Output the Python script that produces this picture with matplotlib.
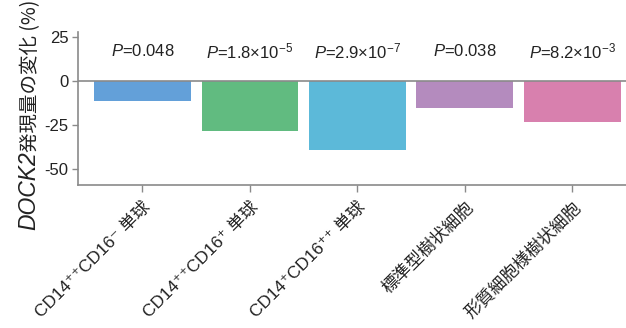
import matplotlib
matplotlib.use("Agg")
import matplotlib.pyplot as plt
import numpy as np

plt.rcParams['font.family'] = ['Liberation Sans', 'Noto Sans CJK JP', 'DejaVu Sans']
plt.rcParams['mathtext.fontset'] = 'custom'
plt.rcParams['mathtext.rm'] = 'Liberation Sans'
plt.rcParams['mathtext.it'] = 'Liberation Sans:italic'

cell_types = [
    'CD14⁺⁺CD16⁻ 単球',
    'CD14⁺⁺CD16⁺ 単球',
    'CD14⁺CD16⁺⁺ 単球',
    '標準型樹状細胞',
    '形質細胞様樹状細胞',
]
change_pct = [-11, -28, -39, -15, -23]
p_labels = [
    r'$\mathit{P}$=0.048',
    r'$\mathit{P}$=1.8×10$^{-5}$',
    r'$\mathit{P}$=2.9×10$^{-7}$',
    r'$\mathit{P}$=0.038',
    r'$\mathit{P}$=8.2×10$^{-3}$',
]
bar_colors = ['#63a0d9', '#61bb80', '#5cb9d9', '#b48bbe', '#d880ae']
y_ticks = [25, 0, -25, -50]

axis_gray = '#8a8a8a'
text_col = '#222222'

fig = plt.figure(figsize=(6.26, 3.28), dpi=100)
ax = fig.add_axes([0.1246, 0.436, 0.8754, 0.466])

x = np.arange(len(cell_types))
ax.bar(x, change_pct, width=0.9, color=bar_colors, zorder=2)
ax.axhline(0, color=axis_gray, lw=1.2, zorder=3)

for xi, lab in zip(x, p_labels):
    ax.text(xi, 17, lab, ha='center', va='center', fontsize=12, color=text_col)

ax.set_xlim(-0.6, 4.5)
ax.set_ylim(-59, 28)
ax.set_yticks(y_ticks)
ax.set_yticklabels([str(v) for v in y_ticks])
ax.set_xticks(x)
ax.set_xticklabels(cell_types, rotation=45, ha='right', va='top',
                   rotation_mode='anchor', fontsize=12.5, color=text_col)

for side in ['top', 'right']:
    ax.spines[side].set_visible(False)
for side in ['left', 'bottom']:
    ax.spines[side].set_color(axis_gray)
    ax.spines[side].set_linewidth(1.2)
ax.tick_params(axis='y', length=4, width=1, color=axis_gray, labelsize=12,
               labelcolor=text_col, pad=3)
ax.tick_params(axis='x', length=5, width=1, color=axis_gray, pad=5)

# y label: italic gene name followed by the Japanese part
fig.text(0.057, 0.538, 'DOCK2', rotation=90, rotation_mode='anchor',
         ha='right', va='baseline', style='italic', fontsize=16.5, color=text_col)
fig.text(0.057, 0.538, '発現量の変化 (%)', rotation=90, rotation_mode='anchor',
         ha='left', va='baseline', fontsize=14, color=text_col,
         family=['Noto Sans CJK JP', 'Liberation Sans'])

fig.savefig('out.png', dpi=100)
